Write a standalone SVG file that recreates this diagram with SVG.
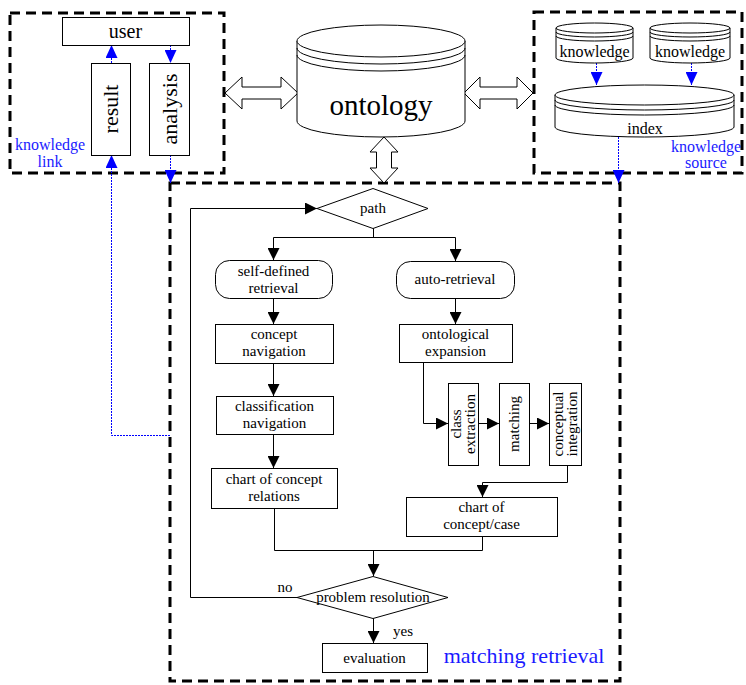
<svg xmlns="http://www.w3.org/2000/svg" width="746" height="685" viewBox="0 0 746 685" font-family="'Liberation Serif','Times New Roman','DejaVu Serif',serif">
<style>
text{font-family:'Liberation Serif','Times New Roman','DejaVu Serif',serif;fill:#000}
.blue{fill:#1a1aff}
.dash{fill:none;stroke:#000;stroke-width:3;stroke-dasharray:10,6}
.box{fill:#fff;stroke:#000;stroke-width:1}
.ln{fill:none;stroke:#000;stroke-width:1}
.bl{fill:none;stroke:#0000ff;stroke-width:1;stroke-dasharray:2,1}
.cyl{fill:#fff;stroke:#000;stroke-width:1}
</style>
<defs>
<marker id="ah" viewBox="0 0 12 12" refX="12" refY="6" markerWidth="12" markerHeight="12" markerUnits="userSpaceOnUse" orient="auto"><path d="M0,0 L12,6 L0,12 z" fill="#000"/></marker>
<marker id="bh" viewBox="0 0 13 12" refX="13" refY="6" markerWidth="13" markerHeight="12" markerUnits="userSpaceOnUse" orient="auto"><path d="M0,0 L13,6 L0,12 z" fill="#0000ff"/></marker>
</defs>

<!-- dashed region boxes -->
<g id="regions">
<rect class="dash" x="10" y="13" width="214" height="160"/>
<rect class="dash" x="534" y="12" width="208" height="161"/>
<rect class="dash" x="170" y="183" width="450" height="498"/>
</g>

<!-- connectors -->
<g id="connectors">
<path class="bl" d="M111.5,63 V45" marker-end="url(#bh)"/>
<path class="bl" d="M170.5,45 V63" marker-end="url(#bh)"/>
<path class="bl" d="M170,435.5 H111.5 V155" marker-end="url(#bh)"/>
<path class="bl" d="M170.5,155 V183" marker-end="url(#bh)"/>
<path class="bl" d="M596.5,63 V85" marker-end="url(#bh)"/>
<path class="bl" d="M691.5,63 V85" marker-end="url(#bh)"/>
<path class="bl" d="M618.5,137 V183" marker-end="url(#bh)"/>
<polygon class="cyl" points="225,93 242,77 242,87 281,87 281,77 298,93 281,109 281,99 242,99 242,109"/>
<polygon class="cyl" points="464,93 480,77 480,87 517,87 517,77 533,93 517,109 517,99 480,99 480,109"/>
<polygon class="cyl" points="384,137 398,152 391.5,152 391.5,168 398,168 384,183 370,168 376.5,168 376.5,152 370,152"/>
<path class="ln" d="M297,597.5 H190.5 V208.5 H317" marker-end="url(#ah)"/>
<path class="ln" d="M373.5,228 V237.5 M273.5,237.5 H455.5"/>
<path class="ln" d="M273.5,237.5 V260" marker-end="url(#ah)"/>
<path class="ln" d="M455.5,237.5 V261" marker-end="url(#ah)"/>
<path class="ln" d="M273.5,298 V324" marker-end="url(#ah)"/>
<path class="ln" d="M273.5,363 V396" marker-end="url(#ah)"/>
<path class="ln" d="M273.5,434 V468" marker-end="url(#ah)"/>
<path class="ln" d="M455.5,298 V324" marker-end="url(#ah)"/>
<path class="ln" d="M423.5,362 V423.5 H448" marker-end="url(#ah)"/>
<path class="ln" d="M478,423.5 H499" marker-end="url(#ah)"/>
<path class="ln" d="M529,423.5 H549" marker-end="url(#ah)"/>
<path class="ln" d="M567.5,465 V482.5 H482.5 V497" marker-end="url(#ah)"/>
<path class="ln" d="M274.5,508 V550.5 H482.5 V536"/>
<path class="ln" d="M373.5,550 V576" marker-end="url(#ah)"/>
<path class="ln" d="M373.5,618 V643" marker-end="url(#ah)"/>
</g>

<g id="user">
<rect class="box" x="62.5" y="17.5" width="127" height="28"/>
<text x="125.5" y="38" font-size="20" text-anchor="middle">user</text>
</g>
<g id="result">
<rect class="box" x="91.5" y="63.5" width="39" height="92"/>
<text transform="translate(118,109) rotate(-90)" font-size="22" text-anchor="middle">result</text>
</g>
<g id="analysis">
<rect class="box" x="149.5" y="63.5" width="40" height="92"/>
<text transform="translate(177,109) rotate(-90)" font-size="22" text-anchor="middle">analysis</text>
</g>
<g id="knowledge-link">
<text class="blue" x="50" y="150" font-size="16" text-anchor="middle">knowledge</text>
<text class="blue" x="50" y="167" font-size="16" text-anchor="middle">link</text>
</g>

<g id="ontology">
<path class="cyl" d="M297,41 V121 A84,16 0 0 0 465,121 V41"/>
<ellipse class="cyl" cx="381" cy="41" rx="84" ry="16"/>
<path class="ln" d="M297,48 A84,16 0 0 0 465,48 M297,55 A84,16 0 0 0 465,55"/>
<text x="381" y="115" font-size="29" text-anchor="middle">ontology</text>
</g>

<g id="knowledge1">
<path class="cyl" d="M556,28 V58 A38.5,5 0 0 0 633,58 V28"/>
<ellipse class="cyl" cx="594.5" cy="28" rx="38.5" ry="5"/>
<path class="ln" d="M556,32 A38.5,5 0 0 0 633,32 M556,36 A38.5,5 0 0 0 633,36"/>
<text x="594.5" y="57" font-size="16" text-anchor="middle">knowledge</text>
</g>
<g id="knowledge2">
<path class="cyl" d="M650,28 V58 A40,5 0 0 0 730,58 V28"/>
<ellipse class="cyl" cx="690" cy="28" rx="40" ry="5"/>
<path class="ln" d="M650,32 A40,5 0 0 0 730,32 M650,36 A40,5 0 0 0 730,36"/>
<text x="690" y="57" font-size="16" text-anchor="middle">knowledge</text>
</g>
<g id="index">
<path class="cyl" d="M555,95 V127 A89.5,10 0 0 0 734,127 V95"/>
<ellipse class="cyl" cx="644.5" cy="95" rx="89.5" ry="10"/>
<path class="ln" d="M555,100 A89.5,10 0 0 0 734,100 M555,105 A89.5,10 0 0 0 734,105"/>
<text x="645" y="134" font-size="16" text-anchor="middle">index</text>
</g>
<g id="knowledge-source">
<text class="blue" x="706" y="152" font-size="16" text-anchor="middle">knowledge</text>
<text class="blue" x="706" y="168" font-size="16" text-anchor="middle">source</text>
</g>

<g id="path">
<polygon class="box" points="317,208.5 373,188.5 428,208.5 373,228.5"/>
<text x="373" y="213" font-size="15" text-anchor="middle">path</text>
</g>
<g id="self-defined">
<rect class="box" x="215.5" y="260.5" width="117" height="38" rx="14"/>
<text x="273.5" y="276" font-size="15" text-anchor="middle">self-defined</text>
<text x="273.5" y="293" font-size="15" text-anchor="middle">retrieval</text>
</g>
<g id="auto-retrieval">
<rect class="box" x="396.5" y="261.5" width="118" height="37" rx="14"/>
<text x="455" y="284" font-size="15" text-anchor="middle">auto-retrieval</text>
</g>
<g id="concept-navigation">
<rect class="box" x="215.5" y="324.5" width="118" height="39"/>
<text x="274" y="339" font-size="15" text-anchor="middle">concept</text>
<text x="274" y="356" font-size="15" text-anchor="middle">navigation</text>
</g>
<g id="ontological-expansion">
<rect class="box" x="399.5" y="324.5" width="113" height="38"/>
<text x="455.5" y="339" font-size="15" text-anchor="middle">ontological</text>
<text x="455.5" y="356" font-size="15" text-anchor="middle">expansion</text>
</g>
<g id="classification-navigation">
<rect class="box" x="216.5" y="396.5" width="117" height="38"/>
<text x="274.5" y="411" font-size="15" text-anchor="middle">classification</text>
<text x="274.5" y="428" font-size="15" text-anchor="middle">navigation</text>
</g>
<g id="chart-relations">
<rect class="box" x="211.5" y="468.5" width="126" height="40"/>
<text x="274" y="484" font-size="15" text-anchor="middle">chart of concept</text>
<text x="274" y="501" font-size="15" text-anchor="middle">relations</text>
</g>
<g id="class-extraction">
<rect class="box" x="448.5" y="383.5" width="30" height="82"/>
<text transform="translate(463,424) rotate(-90)" font-size="15" text-anchor="middle"><tspan x="0" y="-2">class</tspan><tspan x="0" y="12">extraction</tspan></text>
</g>
<g id="matching">
<rect class="box" x="499.5" y="383.5" width="30" height="82"/>
<text transform="translate(514,424) rotate(-90)" font-size="15" text-anchor="middle"><tspan x="0" y="5">matching</tspan></text>
</g>
<g id="conceptual-integration">
<rect class="box" x="549.5" y="383.5" width="32" height="82"/>
<text transform="translate(565,424) rotate(-90)" font-size="15" text-anchor="middle"><tspan x="0" y="-2">conceptual</tspan><tspan x="0" y="12">integration</tspan></text>
</g>
<g id="chart-case">
<rect class="box" x="406.5" y="497.5" width="151" height="39"/>
<text x="481.5" y="512" font-size="15" text-anchor="middle">chart of</text>
<text x="481.5" y="529" font-size="15" text-anchor="middle">concept/case</text>
</g>
<g id="problem-resolution">
<polygon class="box" points="297,597.5 373,576.5 448,597.5 373,618.5"/>
<text x="373" y="602" font-size="15" text-anchor="middle">problem resolution</text>
<text x="285" y="592" font-size="15" text-anchor="middle">no</text>
<text x="403" y="636" font-size="15" text-anchor="middle">yes</text>
</g>
<g id="evaluation">
<rect class="box" x="322.5" y="643.5" width="105" height="29"/>
<text x="374.5" y="663" font-size="15" text-anchor="middle">evaluation</text>
</g>
<g id="matching-retrieval">
<text class="blue" x="524" y="663" font-size="22" text-anchor="middle">matching retrieval</text>
</g>
</svg>
